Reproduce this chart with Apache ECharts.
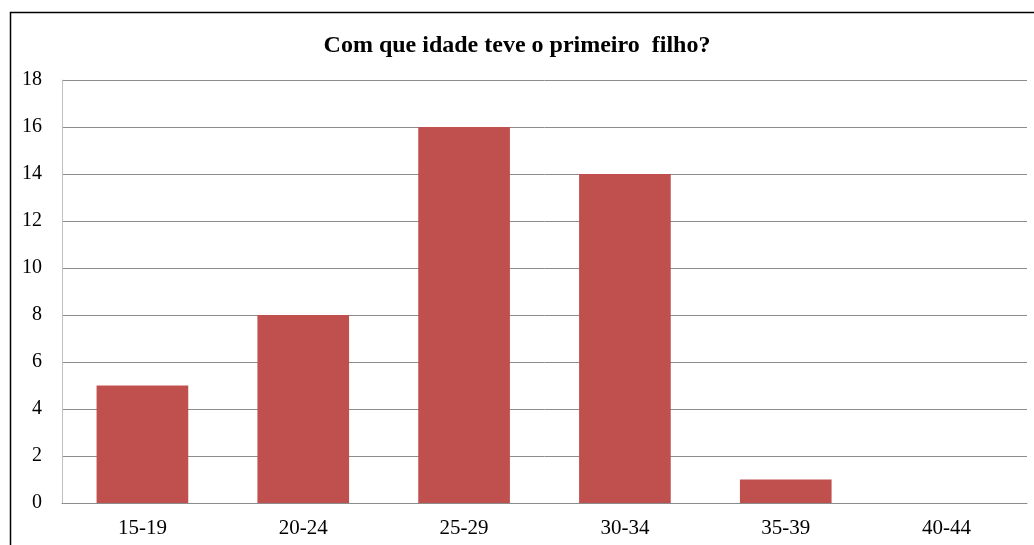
<!DOCTYPE html>
<html>
<head>
<meta charset="utf-8">
<script src="https://cdn.jsdelivr.net/npm/echarts@6/dist/echarts.min.js"></script>
<style>
  html, body { margin: 0; padding: 0; background: #fff; }
  #chart { width: 1034px; height: 545px; }
</style>
</head>
<body>
<div id="chart"></div>
<script>
// faixas etárias e contagens
const categories = ['15-19', '20-24', '25-29', '30-34', '35-39', '40-44'];
const values = [5, 8, 16, 14, 1, 0];
const yTicks = { min: 0, max: 18, interval: 2 };

const chart = echarts.init(document.getElementById('chart'));
chart.setOption({
  animation: false,
  backgroundColor: '#fff',
  title: {
    text: 'Com que idade teve o primeiro  filho?',
    left: 'center',
    top: 29,
    textStyle: { fontFamily: 'Liberation Serif', fontSize: 24, fontWeight: 'bold', color: '#000' }
  },
  // moldura do gráfico (cortada à direita e em baixo)
  graphic: [{
    type: 'rect',
    shape: { x: 10.5, y: 12.5, width: 1100, height: 600 },
    style: { fill: 'none', stroke: '#000', lineWidth: 1.5 },
    silent: true
  }],
  grid: { left: 62, right: 7, top: 80, bottom: 42 },
  xAxis: {
    type: 'category',
    data: categories,
    axisTick: { show: false },
    axisLine: { lineStyle: { color: '#8c8c8c', width: 1 } },
    axisLabel: { fontFamily: 'Liberation Serif', fontSize: 21, color: '#000', margin: 15 }
  },
  yAxis: {
    type: 'value',
    min: yTicks.min,
    max: yTicks.max,
    interval: yTicks.interval,
    axisLine: { show: true, lineStyle: { color: '#c0c0c0', width: 1 } },
    axisTick: { show: false },
    splitLine: { lineStyle: { color: '#8c8c8c', width: 1 } },
    axisLabel: { fontFamily: 'Liberation Serif', fontSize: 20, color: '#000', margin: 20 }
  },
  series: [{
    type: 'bar',
    data: values,
    barWidth: '57%',
    itemStyle: { color: '#C0504D' }
  }]
});
</script>
</body>
</html>
